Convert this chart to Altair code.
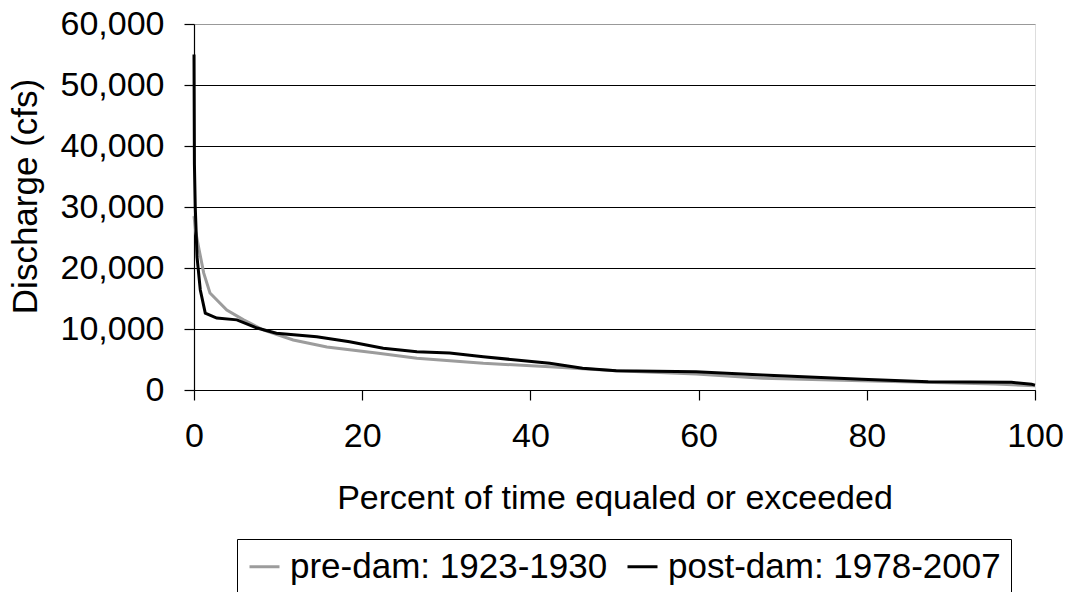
import altair as alt
import pandas as pd

pre_label = "pre-dam: 1923-1930"
post_label = "post-dam: 1978-2007"

pre_x = [0, 0.2, 0.55, 1.15, 1.9, 3.9, 5.9, 8.3, 11.8, 15.8, 21.7, 26.5, 34.4, 42.3, 50.2, 59.7, 67.6, 79.4, 95.3, 100]
pre_y = [28500, 26000, 23400, 19200, 15900, 13100, 11500, 9800, 8200, 7050, 6050, 5200, 4370, 3820, 3170, 2620, 1920, 1530, 980, 700]

post_x = [0, 0.05, 0.15, 0.36, 0.75, 1.34, 2.7, 5.1, 7.5, 9.8, 14.6, 18.5, 22.5, 26.5, 30.4, 34.4, 38.3, 42.3, 46.2, 50.2, 59.7, 67.6, 79.4, 87.3, 97.2, 99.6, 100]
post_y = [55000, 37000, 30000, 21800, 16400, 12600, 11800, 11500, 10160, 9300, 8740, 7900, 6830, 6280, 6060, 5460, 4920, 4370, 3550, 3170, 3000, 2460, 1750, 1360, 1260, 930, 800]

y_ticks = [0, 10000, 20000, 30000, 40000, 50000, 60000]
x_ticks = [0, 20, 40, 60, 80, 100]

rows = []
for i, (x, y) in enumerate(zip(pre_x, pre_y)):
    rows.append({"series": pre_label, "pct": x, "q": y, "order": i})
for i, (x, y) in enumerate(zip(post_x, post_y)):
    rows.append({"series": post_label, "pct": x, "q": y, "order": i})
df = pd.DataFrame(rows)

FONT = "Liberation Sans"
FS = 34

chart = alt.Chart(df).mark_line(strokeWidth=3).encode(
    x=alt.X("pct:Q",
            scale=alt.Scale(domain=[0, 100], nice=False, zero=True),
            axis=alt.Axis(values=x_ticks, title="Percent of time equaled or exceeded",
                          grid=False, tickSize=10, tickColor="black", tickWidth=1.2,
                          domainColor="black", domainWidth=1.2, labelFlush=False,
                          labelFontSize=FS, labelPadding=19, labelColor="black",
                          labelFont=FONT, titleFont=FONT, titleFontSize=FS,
                          titleFontWeight="normal", titleColor="black", titlePadding=28)),
    y=alt.Y("q:Q",
            scale=alt.Scale(domain=[0, 60000], nice=False),
            axis=alt.Axis(values=y_ticks, format=",.0f", title="Discharge (cfs)",
                          grid=True,
                          gridColor={"condition": {"test": "datum.value >= 60000", "value": "#999999"},
                                     "value": "black"},
                          gridWidth=1.2, gridOpacity=1, labelFlush=False,
                          tickSize=10, tickColor="black", tickWidth=1.2,
                          domainColor="black", domainWidth=1.2,
                          labelFontSize=FS, labelPadding=20, labelColor="black",
                          labelFont=FONT, titleFont=FONT, titleFontSize=FS + 1,
                          titleFontWeight="normal", titleColor="black", titlePadding=17,
                          titleY=172)),
    color=alt.Color("series:N",
                    scale=alt.Scale(domain=[pre_label, post_label], range=["#9c9c9c", "#000000"]),
                    legend=alt.Legend(title=None, orient="none", direction="horizontal",
                                      legendX=43, legendY=515,
                                      strokeColor="black", fillColor="white", padding=10,
                                      symbolType="stroke", symbolSize=900, symbolStrokeWidth=3,
                                      labelFont=FONT, labelFontSize=FS + 1, labelColor="black",
                                      labelLimit=0, columnPadding=13, labelOffset=8)),
    order="order:Q",
).properties(
    width=841, height=366,
    autosize=alt.AutoSizeParams(type="none"),
    padding={"left": 186, "top": 16, "right": 28, "bottom": 202},
).configure_view(
    stroke="#999999", strokeWidth=1.2
).configure(background="white")

chart.save("out.html", embed_options={"renderer": "svg", "actions": False})
